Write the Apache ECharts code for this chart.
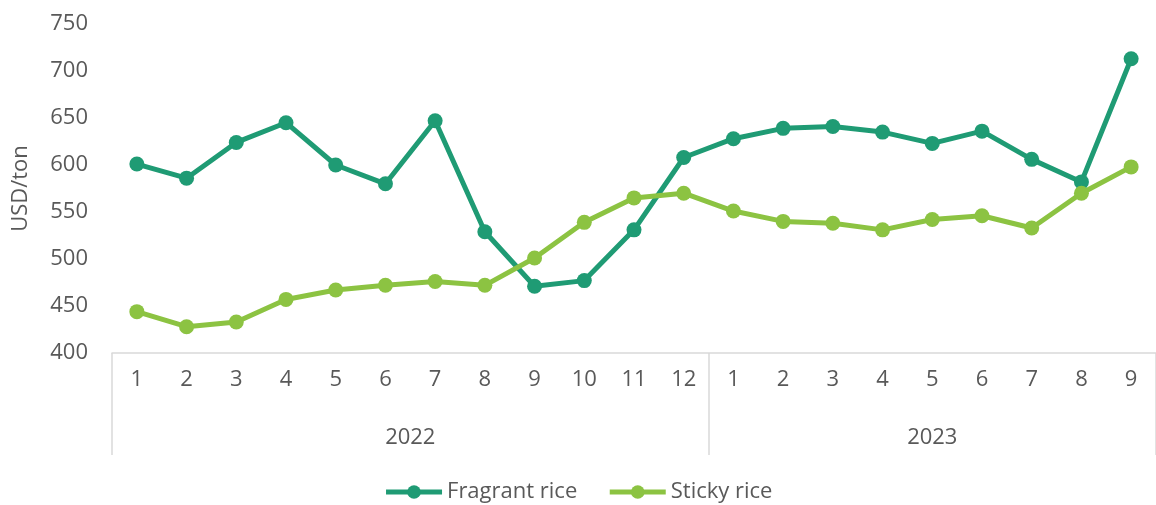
<!DOCTYPE html>
<html>
<head>
<meta charset="utf-8">
<script src="https://cdn.jsdelivr.net/npm/echarts@6/dist/echarts.min.js"></script>
<style>
  html, body { margin: 0; padding: 0; background: #fff; }
  #chart { width: 1156px; height: 505px; }
</style>
</head>
<body>
<div id="chart"></div>
<script>
const months = ['1','2','3','4','5','6','7','8','9','10','11','12','1','2','3','4','5','6','7','8','9']
const years = ['2022', '2023']
const yearBounds = [0, 12, 21]
const fragrantRice = [601, 586, 624, 645, 600, 580, 647, 529, 471, 477, 531, 608, 628, 639, 641, 635, 623, 636, 606, 582, 713]
const stickyRice = [444, 428, 433, 457, 467, 472, 476, 472, 501, 539, 565, 570, 551, 540, 538, 531, 542, 546, 533, 570, 598]

const textColor = '#595959'
const lineColor = '#d9d9d9'
const font = 'Open Sans'

const chart = echarts.init(document.getElementById('chart'))
chart.setOption({
  animation: false,
  textStyle: { fontFamily: font },
  grid: { left: 112, top: 24, width: 1046, height: 329 },
  legend: {
    top: 476,
    left: 'center',
    itemWidth: 56,
    itemHeight: 17,
    itemGap: 30,
    lineStyle: { width: 5 },
    textStyle: { color: textColor, fontSize: 22, fontFamily: font }
  },
  xAxis: [
    {
      type: 'category',
      data: months,
      axisTick: { show: false },
      axisLine: { lineStyle: { color: lineColor, width: 1.5 } },
      axisLabel: { color: textColor, fontSize: 22, margin: 16, interval: 0 }
    },
    {
      type: 'value',
      position: 'bottom',
      min: 0,
      max: months.length,
      splitLine: { show: false },
      axisLine: { show: false },
      axisTick: {
        show: true,
        customValues: yearBounds,
        length: 102,
        lineStyle: { color: lineColor, width: 1.5 }
      },
      axisLabel: {
        color: textColor,
        fontSize: 22,
        margin: 74,
        customValues: [(yearBounds[0] + yearBounds[1]) / 2, (yearBounds[1] + yearBounds[2]) / 2],
        formatter: v => (v < yearBounds[1] ? years[0] : years[1])
      }
    }
  ],
  yAxis: {
    type: 'value',
    min: 400,
    max: 750,
    interval: 50,
    name: 'USD/ton',
    nameLocation: 'middle',
    nameGap: 80,
    nameRotate: 90,
    nameTextStyle: { color: textColor, fontSize: 22 },
    axisLine: { show: false },
    axisTick: { show: false },
    splitLine: { show: false },
    axisLabel: { color: textColor, fontSize: 22, margin: 24 }
  },
  series: [
    {
      name: 'Fragrant rice',
      type: 'line',
      data: fragrantRice,
      color: '#1f9b74',
      symbol: 'circle',
      symbolSize: 15,
      lineStyle: { width: 5 }
    },
    {
      name: 'Sticky rice',
      type: 'line',
      data: stickyRice,
      color: '#8cc342',
      symbol: 'circle',
      symbolSize: 15,
      lineStyle: { width: 5 }
    }
  ]
})
</script>
</body>
</html>
